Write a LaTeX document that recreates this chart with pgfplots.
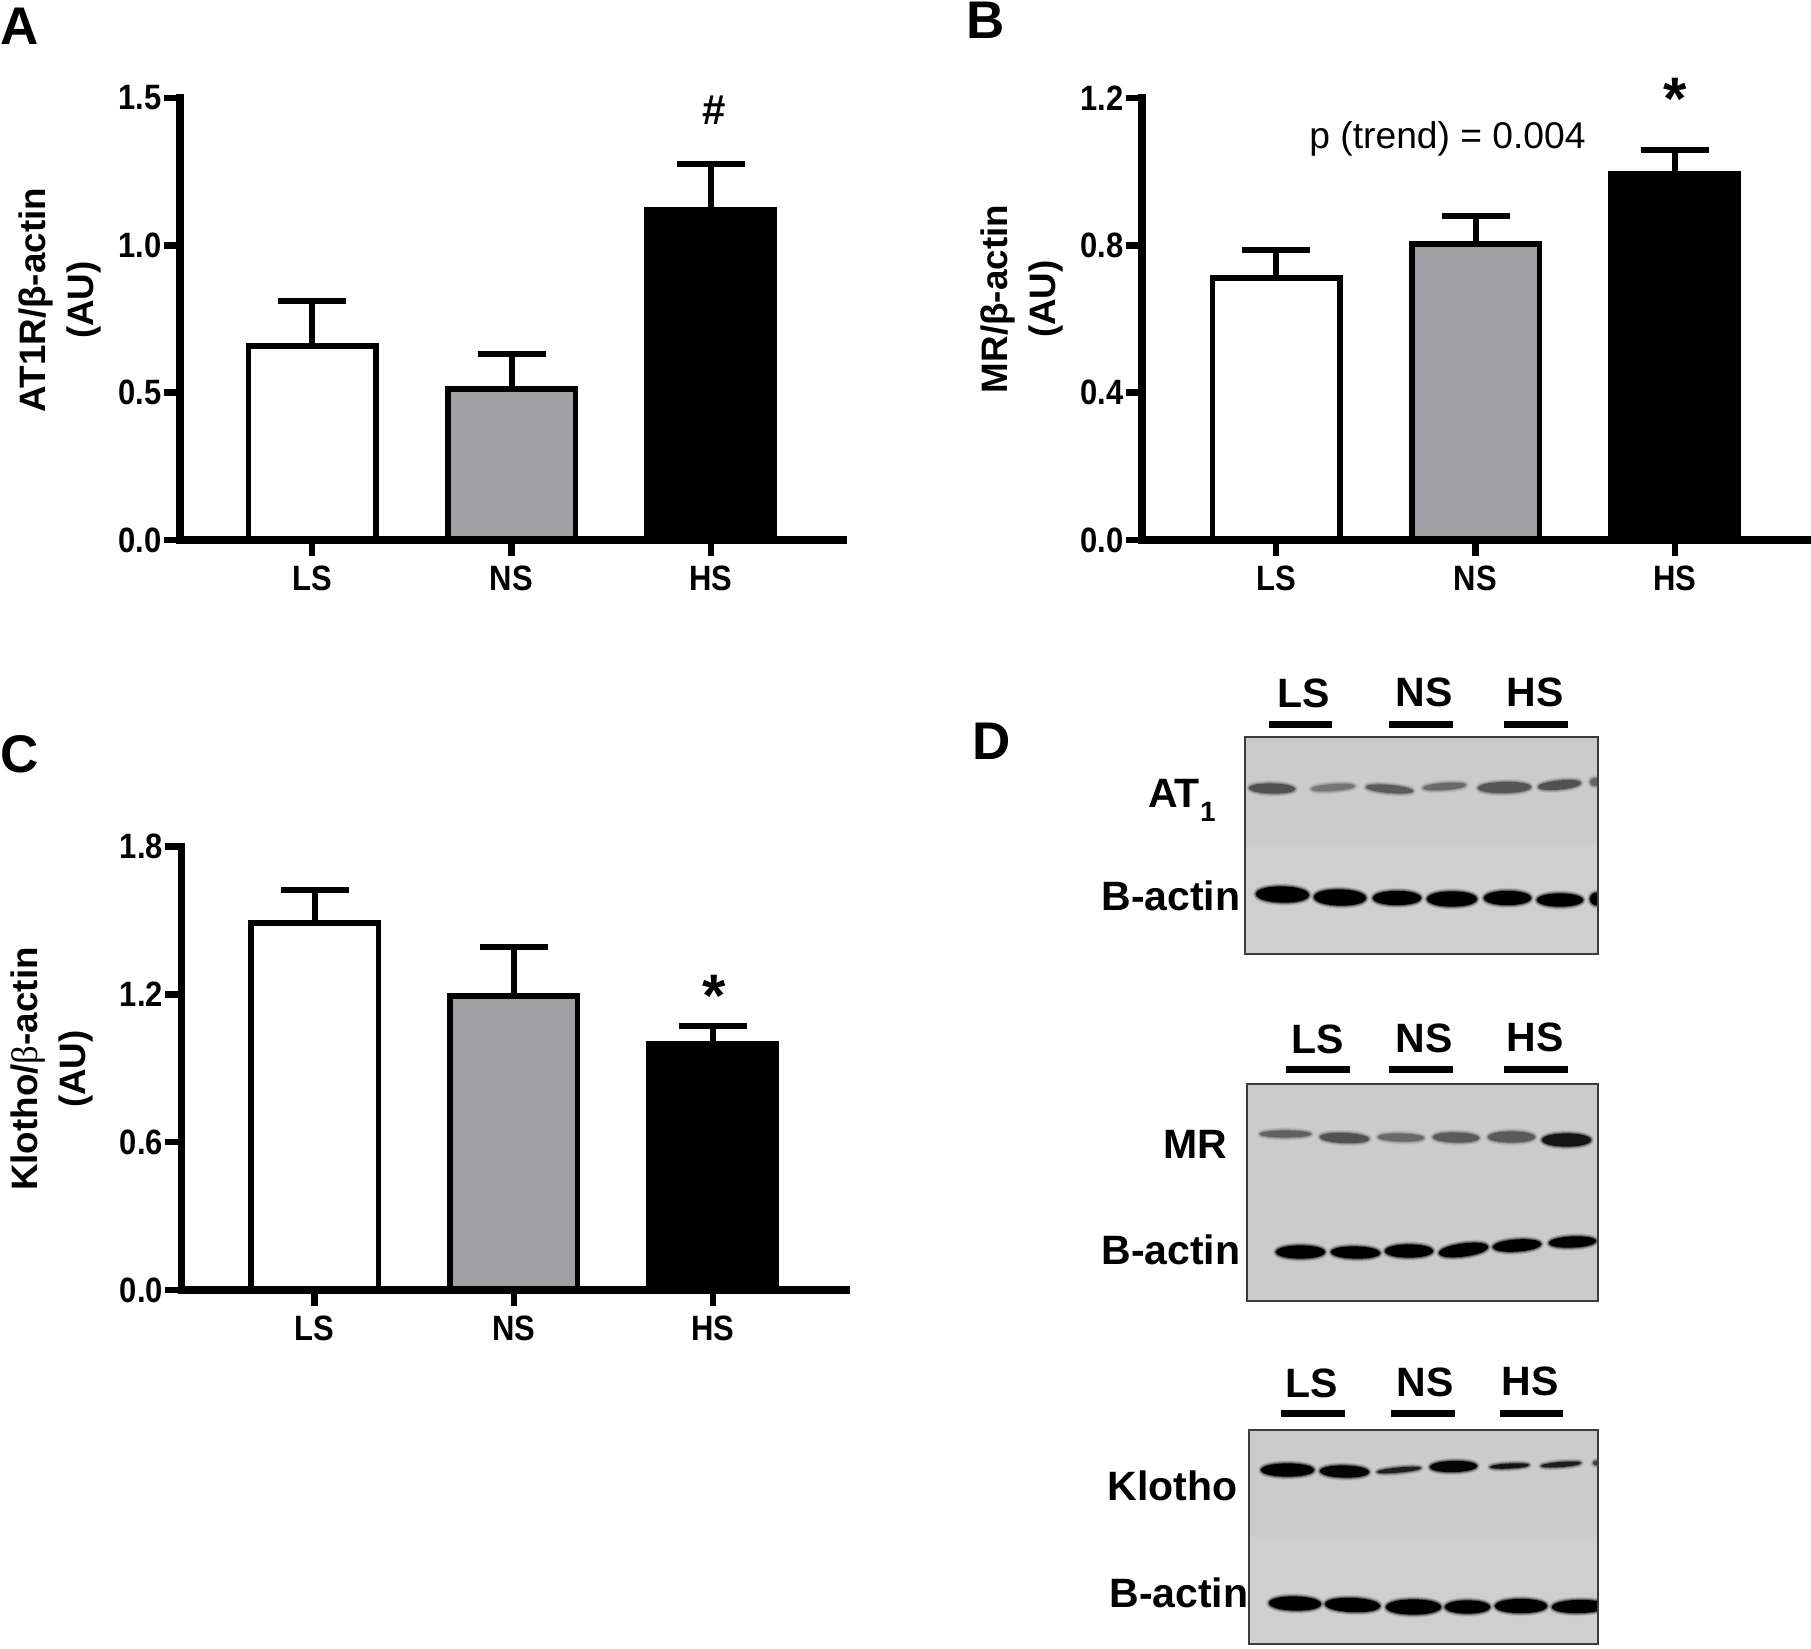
\documentclass[border=0pt]{standalone}
\usepackage{fontspec}
\setmainfont{Liberation Sans}
\newfontfamily\serifbeta{Liberation Serif}
\newfontfamily\tickfont[FakeStretch=0.88]{Liberation Sans}
\usepackage{pgfplots}
\pgfplotsset{compat=1.18}
\definecolor{bargray}{HTML}{A0A0A4}
\definecolor{blotbg}{HTML}{CBCBCB}
\definecolor{blotlow}{HTML}{CFCFCF}
\definecolor{blotedge}{HTML}{3C3C3C}
\pgfplotsset{
  panel/.style={
    scale only axis, clip=false, axis on top,
    ybar,
    axis x line=bottom, axis y line=left,
    axis line style={-, line width=3.75pt, line cap=rect, black},
    tick align=outside, major tick length=8pt,
    tick style={black, line width=3.25pt},
    xtick={0,1,2}, xticklabels={LS,NS,HS},
    ymin=0,
    tick label style={font=\tickfont\bfseries\fontsize{17.6}{20}\selectfont},
    xticklabel style={inner sep=0pt, yshift=-5pt},
    yticklabel style={inner sep=0pt, xshift=-1pt},
    /pgf/number format/assume math mode=true,
    /pgf/number format/fixed, /pgf/number format/fixed zerofill, /pgf/number format/precision=1,
  },
  onebar/.style={
    draw=black, line width=2.75pt, bar width=63.75pt, bar shift=0pt, fill=#1,
    error bars/y dir=plus, error bars/y explicit,
    error bars/error bar style={line width=3pt, black},
    error bars/error mark options={rotate=90, mark size=17pt, line width=2.75pt, black},
  },
}
% x1 x2 y1 y2 thickness darkness(%) : a full-bodied band with a soft edge
\newcommand{\lens}[6]{%
  (#1,{(#3)}) .. controls ({#1+0.01*(#2-#1)},{#3-#5*0.68}) and ({#2-0.01*(#2-#1)},{#4-#5*0.68}) .. (#2,{(#4)})
  .. controls ({#2-0.01*(#2-#1)},{#4+#5*0.68}) and ({#1+0.01*(#2-#1)},{#3+#5*0.68}) .. (#1,{(#3)}) -- cycle
}
\newcommand{\band}[6]{%
  \draw[line join=round, line width=3.0pt, opacity=.10, black!#6!blotbg] \lens{#1}{#2}{#3}{#4}{#5}{#6};
  \draw[line join=round, line width=2.0pt, opacity=.20, black!#6!blotbg] \lens{#1}{#2}{#3}{#4}{#5}{#6};
  \draw[line join=round, line width=1.0pt, opacity=.35, black!#6!blotbg] \lens{#1}{#2}{#3}{#4}{#5}{#6};
  \fill[black!#6!blotbg] \lens{#1}{#2}{#3}{#4}{#5}{#6};
}
\newcommand{\plab}{\bfseries\fontsize{26.5}{30}\selectfont}
\newcommand{\ylab}{\bfseries\fontsize{18.4}{24}\selectfont}
\newcommand{\wlab}{\bfseries\fontsize{20.5}{24}\selectfont}
\begin{document}
\begin{tikzpicture}[x=0.5pt,y=-0.5pt]
\useasboundingbox (0,0) rectangle (1811,1649);

% ---------- Panel A
\begin{axis}[panel, at={(90pt,-270pt)}, anchor=south west, width=331.5pt, height=221pt,
  xmin=-0.662, xmax=2.662, ymax=1.5, ytick={0,0.5,1,1.5}]
\addplot[onebar=white] coordinates {(0,0.659) +- (0,0.152)};
\addplot[onebar=bargray] coordinates {(1,0.513) +- (0,0.118)};
\addplot[onebar=black] coordinates {(2,1.121) +- (0,0.155)};
\end{axis}

% ---------- Panel B
\begin{axis}[panel, at={(571pt,-270pt)}, anchor=south west, width=334.5pt, height=221pt,
  xmin=-0.672, xmax=2.682, ymax=1.2, ytick={0,0.4,0.8,1.2}]
\addplot[onebar=white] coordinates {(0,0.712) +- (0,0.075)};
\addplot[onebar=bargray] coordinates {(1,0.803) +- (0,0.077)};
\addplot[onebar=black] coordinates {(2,0.995) +- (0,0.064)};
\end{axis}

% ---------- Panel C
\begin{axis}[panel, at={(90.7pt,-645pt)}, anchor=south west, width=332.3pt, height=221.75pt,
  xmin=-0.669, xmax=2.668, ymax=1.8, ytick={0,0.6,1.2,1.8}]
\addplot[onebar=white] coordinates {(0,1.49) +- (0,0.133)};
\addplot[onebar=bargray] coordinates {(1,1.194) +- (0,0.199)};
\addplot[onebar=black] coordinates {(2,0.999) +- (0,0.072)};
\end{axis}

% panel letters
\node[font=\plab] at (20,26) {A};
\node[font=\plab] at (986,20) {B};
\node[font=\plab] at (20,754) {C};
\node[font=\plab] at (992,741) {D};

% y labels
\node[rotate=90, align=center, font=\ylab] at (60,300) {AT1R/β-actin\\(AU)};
\node[rotate=90, align=center, font=\ylab] at (1022,299) {MR/β-actin\\(AU)};
\node[rotate=90, align=center, font=\ylab] at (52,1069) {Klotho/{\serifbeta\mdseries β}-actin\\(AU)};

% annotations
\node[font=\bfseries\fontsize{21}{24}\selectfont] at (714,110) {\#};
\node[font=\bfseries\fontsize{30}{30}\selectfont, anchor=center] at (1675,99) {*};
\node[font=\bfseries\fontsize{30}{30}\selectfont, anchor=center] at (714,996) {*};
\node[font=\fontsize{18.6}{22}\selectfont, anchor=base] at (1447.5,148) {p (trend) = 0.004};

% ---------- Panel D, blot 1
\begin{scope}
\fill[blotbg] (1245,737) rectangle (1598,845);
\fill[blotlow] (1245,845) rectangle (1598,954);
\clip (1245,737) rectangle (1598,954);
\band{1249}{1295}{788}{789}{10}{60}
\band{1311}{1355}{789}{786}{7}{42}
\band{1366}{1413}{787}{791}{8}{55}
\band{1423}{1466}{788}{785}{7}{48}
\band{1478}{1531}{788}{787}{11}{58}
\band{1538}{1581}{787}{783}{9}{60}
\band{1590}{1600}{782}{782}{8}{50}
\band{1256}{1309}{894}{895}{16}{100}
\band{1314}{1366}{897}{898}{16}{100}
\band{1373}{1421}{898}{898}{14}{100}
\band{1427}{1477}{899}{899}{15}{100}
\band{1484}{1531}{898}{898}{14}{100}
\band{1537}{1583}{900}{900}{13}{100}
\band{1590}{1606}{899}{899}{13}{100}
\end{scope}
\draw[blotedge, line width=0.8pt] (1245,737) rectangle (1598,954);
\foreach \a/\b in {1269/1332,1389/1453,1504/1568} \fill (\a,720.5) rectangle (\b,727.5);
\node[font=\wlab] at (1304,693) {LS};
\node[font=\wlab] at (1424,692) {NS};
\node[font=\wlab] at (1535,692) {HS};
\node[font=\wlab, anchor=base west, inner sep=0pt] at (1148,807) {AT\raisebox{-0.35em}{\fontsize{14}{14}\selectfont 1}};
\node[font=\wlab, anchor=base west, inner sep=0pt] at (1101,910) {B-actin};

% ---------- Panel D, blot 2
\begin{scope}
\fill[blotbg] (1247,1084) rectangle (1598,1301);
\clip (1247,1084) rectangle (1598,1301);
\band{1260}{1311}{1134}{1134}{7}{52}
\band{1320}{1369}{1137}{1139}{10}{60}
\band{1378}{1424}{1137}{1138}{8}{48}
\band{1433}{1479}{1137}{1138}{10}{55}
\band{1488}{1535}{1137}{1137}{11}{55}
\band{1542}{1591}{1140}{1140}{13}{90}
\band{1276}{1325}{1252}{1252}{13}{100}
\band{1331}{1380}{1252}{1253}{12}{100}
\band{1385}{1433}{1251}{1251}{13}{100}
\band{1439}{1488}{1253}{1247}{13}{100}
\band{1493}{1541}{1247}{1244}{12}{100}
\band{1549}{1596}{1243}{1241}{11}{100}
\end{scope}
\draw[blotedge, line width=0.8pt] (1247,1084) rectangle (1598,1301);
\foreach \a/\b in {1286/1350,1389/1453,1504/1568} \fill (\a,1066) rectangle (\b,1073);
\node[font=\wlab] at (1318,1039) {LS};
\node[font=\wlab] at (1424,1038) {NS};
\node[font=\wlab] at (1535,1037) {HS};
\node[font=\wlab] at (1195,1144) {MR};
\node[font=\wlab, anchor=base west, inner sep=0pt] at (1101,1264) {B-actin};

% ---------- Panel D, blot 3
\begin{scope}
\fill[blotbg] (1249,1430) rectangle (1598,1537);
\fill[blotlow] (1249,1537) rectangle (1598,1644);
\clip (1249,1430) rectangle (1598,1644);
\band{1261}{1314}{1470}{1470}{13}{100}
\band{1320}{1369}{1471}{1472}{12}{98}
\band{1377}{1421}{1472}{1468}{5}{85}
\band{1430}{1477}{1467}{1466}{11}{98}
\band{1490}{1529}{1467}{1465}{5}{90}
\band{1541}{1581}{1466}{1463}{5}{85}
\band{1593}{1604}{1463}{1463}{5}{70}
\band{1269}{1321}{1603}{1604}{14}{100}
\band{1325}{1380}{1604}{1606}{14}{100}
\band{1386}{1441}{1607}{1607}{15}{100}
\band{1445}{1490}{1607}{1607}{13}{100}
\band{1495}{1547}{1606}{1606}{14}{100}
\band{1552}{1606}{1607}{1606}{13}{100}
\end{scope}
\draw[blotedge, line width=0.8pt] (1249,1430) rectangle (1598,1644);
\foreach \a/\b in {1281/1344.5,1391/1455,1499.5/1563} \fill (\a,1410) rectangle (\b,1417);
\node[font=\wlab] at (1312,1383) {LS};
\node[font=\wlab] at (1425,1382) {NS};
\node[font=\wlab] at (1530,1381) {HS};
\node[font=\wlab, anchor=base west, inner sep=0pt] at (1107,1500) {Klotho};
\node[font=\wlab, anchor=base west, inner sep=0pt] at (1109,1607) {B-actin};
\end{tikzpicture}
\end{document}
